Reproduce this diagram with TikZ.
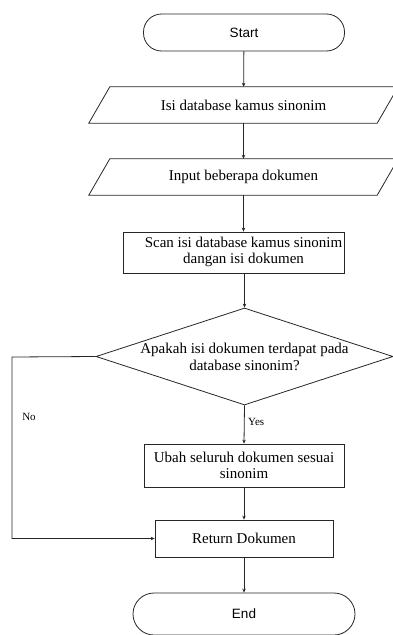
\documentclass[tikz,border=0pt]{standalone}
\usepackage{fontspec}
\setmainfont{Liberation Serif}
\newfontfamily\arialfont{Liberation Sans}
\usetikzlibrary{shapes.geometric,arrows.meta}
\tikzset{
  ln/.style={draw=black!85, line width=0.8pt},
  conn/.style={ln, -{Stealth[length=4pt,width=3.5pt]}},
  term/.style={ln, rounded corners=18pt, font=\arialfont\fontsize{13.5}{16}\selectfont},
  iobox/.style={minimum width=288pt, minimum height=36pt, inner sep=0pt, font=\fontsize{15}{17}\selectfont},
  procbox/.style={ln, inner sep=0pt, align=center, font=\fontsize{15}{16.5}\selectfont},
  txt/.style={align=center, inner sep=0pt, font=\fontsize{15}{16.5}\selectfont},
  lbl/.style={inner sep=0pt, font=\fontsize{11}{13}\selectfont}
}
\begin{document}
\begin{tikzpicture}[x=1pt,y=-1pt]
\useasboundingbox (0,0) rectangle (393,635);
\node[term, minimum width=201pt, minimum height=37pt] (start) at (244,32.5) {Start};
\node[iobox] (p1) at (243.5,105) {Isi database kamus sinonim};
\draw[ln] ([xshift=-10.5pt]p1.south west) -- ([xshift=10.5pt]p1.north west) -- ([xshift=10.5pt]p1.north east) -- ([xshift=-10.5pt]p1.south east) -- cycle;
\node[iobox] (p2) at (243.5,177) {Input beberapa dokumen};
\draw[ln] ([xshift=-10.5pt]p2.south west) -- ([xshift=10.5pt]p2.north west) -- ([xshift=10.5pt]p2.north east) -- ([xshift=-10.5pt]p2.south east) -- cycle;
\node[procbox, minimum width=221pt, minimum height=41pt] (scan) at (233.5,252.5) {};
\node[txt] (scantext) at (243.5,252) {Scan isi database kamus sinonim\\dangan isi dokumen};
\node[ln, diamond, aspect=3.06, minimum width=297pt, minimum height=97pt, inner sep=0pt] (dec) at (244.5,356.5) {};
\node[txt] (dectext) at (244.5,357) {Apakah isi dokumen terdapat pada\\database sinonim?};
\node[procbox, minimum width=200pt, minimum height=43pt] (ubah) at (244,465.5) {Ubah seluruh dokumen sesuai\\sinonim};
\node[procbox, minimum width=178pt, minimum height=37pt] (ret) at (244,538.5) {Return Dokumen};
\node[term, rounded corners=21pt, minimum width=222pt, minimum height=42pt] (end) at (244,614) {End};
\coordinate (c1) at (12,357);
\coordinate (c2) at (12,538.5);
\draw[conn] (start) -- (p1);
\draw[conn] (p1) -- (p2);
\draw[conn] (p2.south) -- (p2.south |- scan.north);
\draw[conn] (dec.north |- scan.south) -- (dec.north);
\draw[conn] (dec.south) -- (ubah.north);
\draw[conn] (ubah) -- (ret);
\draw[conn] (ret) -- (end);
\draw[conn] (dec.west) -- (c1) -- (c2) -- (ret.west);
\node[lbl] (no) at (29,417) {No};
\node[lbl, anchor=west] (yes) at (248,422) {Yes};
\end{tikzpicture}
\end{document}
